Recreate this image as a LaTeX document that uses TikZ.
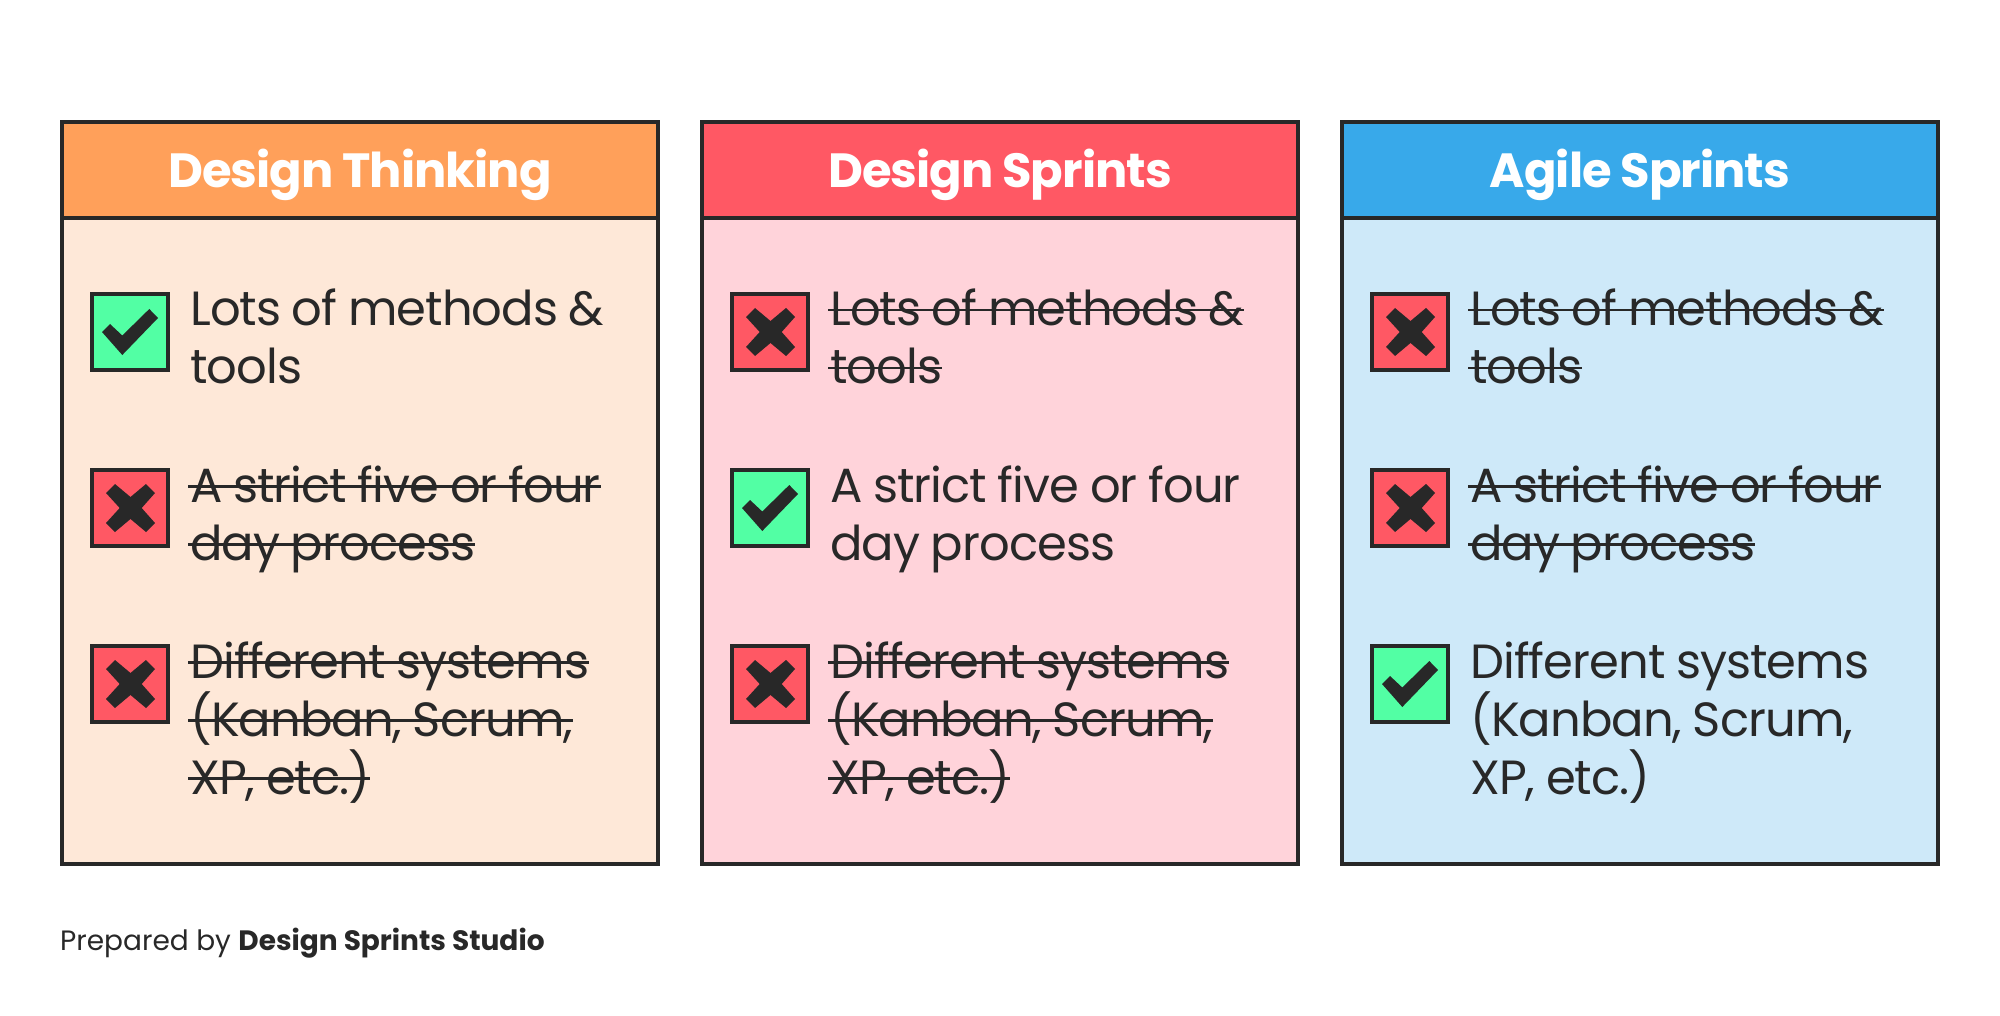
\documentclass[tikz,border=0pt]{standalone}
\usepackage{fontspec}
\setmainfont{Poppins}
\newfontfamily\tightfont[LetterSpace=-2]{Poppins}
\newfontfamily\bodyfont[LetterSpace=-2,WordSpace=0.95]{Poppins}
\definecolor{ink}{HTML}{282828}
\definecolor{hOrange}{HTML}{FFA05A}
\definecolor{hRed}{HTML}{FF5864}
\definecolor{hBlue}{HTML}{38A9EA}
\definecolor{bOrange}{HTML}{FEE8D8}
\definecolor{bRed}{HTML}{FFD3DA}
\definecolor{bBlue}{HTML}{CEE9F9}
\definecolor{okGreen}{HTML}{52FFA4}
\newcommand\strk[1]{\setbox0\hbox{#1}\rlap{\raise14.5pt\hbox{\kern-2pt\color{ink}\rule{\dimexpr\wd0+2pt\relax}{2.6pt}}}\box0}
\newcommand\rowtwo[2]{\vtop{\baselineskip=58pt\hbox{#1}\hbox{#2}}}
\newcommand\rowthree[3]{\vtop{\baselineskip=58pt\hbox{#1}\hbox{#2}\hbox{#3}}}
\tikzset{
  itemtext/.style={anchor=base west,inner sep=0pt,text=ink,font=\bodyfont\fontsize{48}{58}\selectfont},
  headtext/.style={anchor=base,inner sep=0pt,text=white,font=\tightfont\fontsize{48}{50}\selectfont\bfseries},
  iconbox/.style={draw=ink,line width=4pt,rectangle,minimum size=76pt,inner sep=0pt,anchor=north west},
}
\newcommand\panel[5]{% left x, header colour, body colour, title, name
  \fill[#3] (#1+2,122) rectangle (#1+598,864);
  \fill[#2] (#1+2,122) rectangle (#1+598,218);
  \draw[ink,line width=4pt] (#1+2,122) rectangle (#1+598,864);
  \draw[ink,line width=4pt] (#1+2,218) -- (#1+598,218);
  \node[headtext] (#5) at (#1+300,188) {#4};
}
\newcommand\yes[3]{% x, y, name
  \node[iconbox,fill=okGreen] (#3) at (#1+30,#2) {};
  \fill[ink] (#1+42,#2+40) -- (#1+50,#2+32) -- (#1+62.3,#2+43.5) -- (#1+89.3,#2+17) -- (#1+98,#2+26) -- (#1+62.3,#2+63) -- cycle;
}
\newcommand\no[3]{%
  \node[iconbox,fill=hRed] (#3) at (#1+30,#2) {};
  \fill[ink] (#1+46,#2+25) -- (#1+55,#2+16) -- (#1+70.5,#2+29) -- (#1+86,#2+16) -- (#1+95,#2+25) -- (#1+81.7,#2+40) -- (#1+95,#2+55) -- (#1+86,#2+64) -- (#1+70.5,#2+51) -- (#1+55,#2+64) -- (#1+46,#2+55) -- (#1+59.7,#2+40) -- cycle;
}
\begin{document}
\begin{tikzpicture}[x=1pt,y=-1pt]
\useasboundingbox (0,0) rectangle (2000,1016);
\fill[white] (0,0) rectangle (2000,1016);
\panel{60}{hOrange}{bOrange}{Design Thinking}{t1}
\panel{700}{hRed}{bRed}{Design Sprints}{t2}
\panel{1340}{hBlue}{bBlue}{Agile Sprints}{t3}
% column 1
\yes{60}{292}{a1}\no{60}{468}{a2}\no{60}{644}{a3}
\node[itemtext] (ta1) at (190,326) {\rowtwo{Lots of methods \&}{tools}};
\node[itemtext] (ta2) at (190,502) {\rowtwo{\strk{A strict five or four}}{\strk{day process}}};
\node[itemtext] (ta3) at (190,678) {\rowthree{\strk{Different systems}}{\strk{(Kanban, Scrum,}}{\strk{XP, etc.)}}};
% column 2
\no{700}{292}{b1}\yes{700}{468}{b2}\no{700}{644}{b3}
\node[itemtext] (tb1) at (830,326) {\rowtwo{\strk{Lots of methods \&}}{\strk{tools}}};
\node[itemtext] (tb2) at (830,502) {\rowtwo{A strict five or four}{day process}};
\node[itemtext] (tb3) at (830,678) {\rowthree{\strk{Different systems}}{\strk{(Kanban, Scrum,}}{\strk{XP, etc.)}}};
% column 3
\no{1340}{292}{c1}\no{1340}{468}{c2}\yes{1340}{644}{c3}
\node[itemtext] (tc1) at (1470,326) {\rowtwo{\strk{Lots of methods \&}}{\strk{tools}}};
\node[itemtext] (tc2) at (1470,502) {\rowtwo{\strk{A strict five or four}}{\strk{day process}}};
\node[itemtext] (tc3) at (1470,678) {\rowthree{Different systems}{(Kanban, Scrum,}{XP, etc.)}};
% footer
\node[anchor=base west,inner sep=0pt,text=ink,font=\fontsize{28}{34}\selectfont] (foot) at (60,950) {Prepared by \textbf{Design Sprints Studio}};
\end{tikzpicture}
\end{document}
